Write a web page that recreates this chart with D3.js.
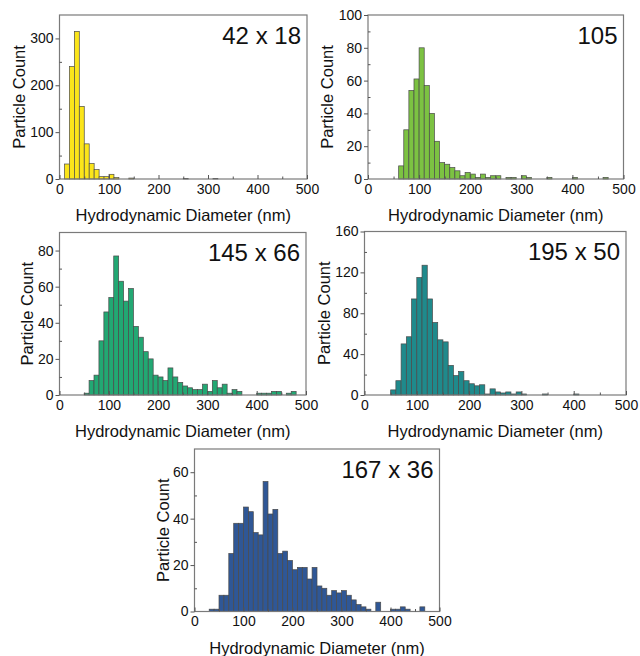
<!DOCTYPE html>
<html><head><meta charset="utf-8">
<script src="https://cdn.jsdelivr.net/npm/d3@7"></script>
<style>body{margin:0;background:#fff}svg{display:block}text{font-family:"Liberation Sans",Arial,sans-serif}</style>
</head><body>
<svg id="c" width="640" height="656"></svg>
<script>
// Bin width 10 nm, bins start at 0 nm
const binWidth = 10;
const labels = ["42 x 18", "105", "145 x 66", "195 x 50", "167 x 36"];
const yMaxes = [350, 100, 90, 160, 70];
const yTickSteps = [100, 20, 20, 40, 20];
const xTicks = [0, 100, 200, 300, 400, 500];
const colors = ["#fbe51a", "#7cc242", "#22a873", "#1f8a8c", "#2f5796"];
const counts1 = [0,32,240,315,155,75,33,20,5,5,10,3,0,0,2,0,0,0,0,0,0,0,0,0,0,1,0,0,0,0,0,1,0,0,0,0,0,0,0,0,0,0,0,0,0,0,0,0,0,0];
const counts2 = [0,0,0,0,0,0,8,30,54,61,80,57,40,23,10,9,7,5,2,4,3,1,3,1,2,2,0,1,1,0,2,1,0,0,0,1,0,0,0,0,1,0,0,0,0,0,1,0,0,0];
const counts3 = [0,0,0,0,0,1,8,11,30,46,54,77,63,52,59,38,32,24,20,11,10,8,15,10,7,5,4,3,3,6,2,8,4,6,1,3,2,0,0,0,1,1,1,2,2,0,1,2,0,0];
const counts4 = [0,0,0,0,0,5,14,50,57,94,115,127,94,71,54,52,29,19,23,14,11,9,10,1,6,3,2,3,1,3,1,0,0,0,1,0,0,0,0,0,1,0,0,0,0,0,0,0,0,0];
const counts5 = [0,0,0,1,1,7,7,25,38,38,45,43,34,33,56,42,44,25,26,22,18,19,19,14,19,11,10,7,9,8,9,7,5,3,2,1,0,4,0,0,1,1,2,1,0,0,2,0,0,0];
const allCounts = [counts1, counts2, counts3, counts4, counts5];

// layout (plot rectangles)
const boxes = [
  {x0:59.5, x1:307, y0:15, y1:179, yt:19},
  {x0:368, x1:623.5, y0:15, y1:179, yt:327},
  {x0:59.5, x1:306, y0:232.5, y1:395, yt:27},
  {x0:364.5, x1:626, y0:231.5, y1:395, yt:324},
  {x0:194.5, x1:439.5, y0:449, y1:611.5, yt:163}
];

const svg = d3.select("#c");
boxes.forEach((b, k) => {
  const x = d3.scaleLinear().domain([0, 500]).range([b.x0, b.x1]);
  const y = d3.scaleLinear().domain([0, yMaxes[k]]).range([b.y1, b.y0]);
  const g = svg.append("g");
  const data = allCounts[k].map((v, i) => ({lo: i*binWidth, v})).filter(d => d.v > 0);
  g.selectAll("rect").data(data).enter().append("rect")
    .attr("x", d => x(d.lo)).attr("width", d => x(d.lo + binWidth) - x(d.lo))
    .attr("y", d => y(d.v)).attr("height", d => y(0) - y(d.v))
    .attr("fill", colors[k]).attr("stroke", "#4a4a4a").attr("stroke-width", 0.7);
  // frame
  g.append("rect").attr("x", b.x0).attr("y", b.y0).attr("width", b.x1-b.x0).attr("height", b.y1-b.y0)
    .attr("fill", "none").attr("stroke", "#7a7a7a").attr("stroke-width", 1.2);
  // x axis
  const xa = g.append("g").attr("transform", `translate(0,${b.y1})`)
    .call(d3.axisBottom(x).tickValues(xTicks).tickSize(-4).tickPadding(5).tickFormat(d3.format("d")));
  xa.select(".domain").remove();
  xa.selectAll("line").attr("stroke", "#555");
  xa.selectAll("text").attr("font-size", 14).attr("fill", "#111");
  g.append("g").attr("transform", `translate(0,${b.y1})`)
    .call(d3.axisBottom(x).tickValues([50,150,250,350,450]).tickSize(-2.5).tickFormat(""))
    .call(s => { s.select(".domain").remove(); s.selectAll("line").attr("stroke", "#555"); });
  // y axis
  const yt = d3.range(0, yMaxes[k] + 0.001, yTickSteps[k]);
  const ya = g.append("g").attr("transform", `translate(${b.x0},0)`)
    .call(d3.axisLeft(y).tickValues(yt).tickSize(4).tickPadding(2).tickFormat(d3.format("d")));
  ya.select(".domain").remove();
  ya.selectAll("line").attr("stroke", "#555");
  ya.selectAll("text").attr("font-size", 14).attr("fill", "#111");
  const ym = d3.range(yTickSteps[k]/2, yMaxes[k], yTickSteps[k]);
  g.append("g").attr("transform", `translate(${b.x0},0)`)
    .call(d3.axisLeft(y).tickValues(ym).tickSize(-2.5).tickFormat(""))
    .call(s => { s.select(".domain").remove(); s.selectAll("line").attr("stroke", "#555"); });
  // titles
  g.append("text").attr("x", (b.x0+b.x1)/2).attr("y", b.y1 + 42)
    .attr("text-anchor", "middle").attr("font-size", 16.5).attr("fill", "#111")
    .text("Hydrodynamic Diameter (nm)");
  g.append("text").attr("transform", `translate(${b.yt},${(b.y0+b.y1)/2}) rotate(-90)`)
    .attr("text-anchor", "middle").attr("dominant-baseline", "central")
    .attr("font-size", 16.5).attr("fill", "#111").text("Particle Count");
  g.append("text").attr("x", b.x1 - 6).attr("y", b.y0 + 28.5)
    .attr("text-anchor", "end").attr("font-size", 24).attr("fill", "#111").text(labels[k]);
});
</script>
</body></html>
